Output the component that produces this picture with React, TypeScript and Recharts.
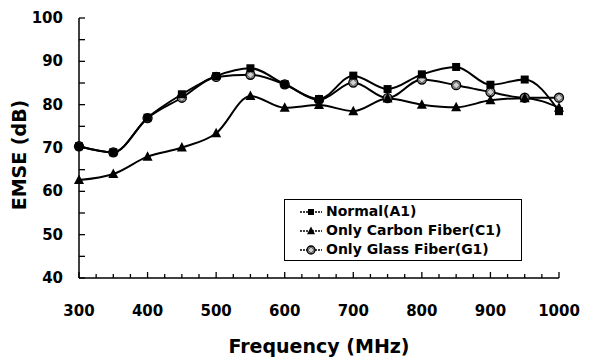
import React from "react";
import { LineChart, Line, XAxis, YAxis } from "recharts";

const frequencies = [300, 350, 400, 450, 500, 550, 600, 650, 700, 750, 800, 850, 900, 950, 1000];
const normalA1 = [70.4, 69.0, 77.0, 82.4, 86.6, 88.4, 84.7, 81.3, 86.7, 83.6, 87.0, 88.7, 84.6, 85.8, 78.5];
const carbonC1 = [62.6, 64.0, 68.0, 70.1, 73.4, 82.0, 79.3, 79.9, 78.5, 81.4, 80.0, 79.4, 81.0, 81.5, 79.3];
const glassG1 = [70.4, 69.0, 76.9, 81.6, 86.4, 86.9, 84.7, 81.1, 85.1, 81.5, 85.8, 84.5, 82.9, 81.6, 81.6];

const xTicks = [300, 325, 350, 375, 400, 425, 450, 475, 500, 525, 550, 575, 600, 625, 650, 675, 700, 725, 750, 775, 800, 825, 850, 875, 900, 925, 950, 975, 1000];
const yTicks = [40, 45, 50, 55, 60, 65, 70, 75, 80, 85, 90, 95, 100];

const seriesNames = ["Normal(A1)", "Only Carbon Fiber(C1)", "Only Glass Fiber(G1)"];

const data = frequencies.map((f, i) => ({
  freq: f,
  normal: normalA1[i],
  carbon: carbonC1[i],
  glass: glassG1[i],
}));

const FONT = "'DejaVu Sans', sans-serif";

// markers
function SquareMark({ cx, cy, s = 8 }: any) {
  return <rect x={cx - s / 2} y={cy - s / 2} width={s} height={s} fill="#000" />;
}
function TriangleMark({ cx, cy, s = 10 }: any) {
  return (
    <polygon
      points={`${cx},${cy - s * 0.55} ${cx + s / 2},${cy + s * 0.4} ${cx - s / 2},${cy + s * 0.4}`}
      fill="#000"
    />
  );
}
function GlassMark({ cx, cy, r = 4.5 }: any) {
  return (
    <g>
      <circle cx={cx} cy={cy} r={r} fill="#8a8a8a" stroke="#000" strokeWidth={1.3} />
      <polygon
        points={`${cx},${cy - r + 1} ${cx + r - 1},${cy} ${cx},${cy + r - 1} ${cx - r + 1},${cy}`}
        fill="#d0d0d0"
        stroke="#333"
        strokeWidth={0.6}
      />
    </g>
  );
}

function XTick({ x, y, payload }: any) {
  const major = payload.value % 100 === 0;
  return (
    <g>
      <line x1={x} x2={x} y1={y} y2={y - (major ? 6 : 4)} stroke="#000" strokeWidth={1.3} />
      {major && (
        <text x={x} y={y + 38} textAnchor="middle" fontFamily={FONT} fontWeight="bold" fontSize={15} fill="#000">
          {payload.value}
        </text>
      )}
    </g>
  );
}

function YTick({ x, y, payload }: any) {
  const major = payload.value % 10 === 0;
  return (
    <g>
      <line x1={x} x2={x + 6} y1={y} y2={y} stroke="#000" strokeWidth={1.3} />
      {major && (
        <text x={x - 16} y={y + 5} textAnchor="end" fontFamily={FONT} fontWeight="bold" fontSize={15} fill="#000">
          {payload.value}
        </text>
      )}
    </g>
  );
}

function YTitle({ viewBox }: any) {
  const cx = 19;
  const cy = viewBox.y + viewBox.height / 2 + 7;
  return (
    <text
      x={cx}
      y={cy}
      dy="0.36em"
      transform={`rotate(-90 ${cx} ${cy})`}
      textAnchor="middle"
      fontFamily={FONT}
      fontWeight="bold"
      fontSize={19}
      fill="#000"
    >
      EMSE (dB)
    </text>
  );
}

// legend drawn as an overlay box inside the plot
function LegendBox() {
  const marks = [SquareMark, TriangleMark, GlassMark];
  return (
    <div
      style={{
        position: "absolute",
        left: 284,
        top: 199,
        width: 238,
        height: 62,
        boxSizing: "border-box",
        border: "1px solid #000",
        background: "#fff",
        padding: "2px 0 0 15px",
        fontFamily: FONT,
        fontWeight: "bold",
        fontSize: 14,
        lineHeight: "19px",
      }}
    >
      {seriesNames.map((name, i) => {
        const Mark = marks[i];
        return (
          <div key={name} style={{ display: "flex", alignItems: "center" }}>
            <svg width={22} height={14} style={{ marginRight: 4 }}>
              <line x1={0} x2={22} y1={7} y2={7} stroke="#000" strokeWidth={1.5} strokeDasharray="2 1" />
              <Mark cx={11} cy={7} s={i === 0 ? 6 : 8} r={4} />
            </svg>
            <span>{name}</span>
          </div>
        );
      })}
    </div>
  );
}

export default function App() {
  return (
    <div style={{ position: "absolute", left: 0, top: 0, width: 595, height: 361, background: "#fff" }}>
      <LineChart width={595} height={361} data={data} margin={{ top: 18, right: 36, bottom: 0, left: 0 }}>
        <XAxis
          dataKey="freq"
          type="number"
          domain={[300, 1000]}
          ticks={xTicks}
          interval={0}
          tickSize={0}
          tickMargin={0}
          tick={<XTick />}
          axisLine={{ stroke: "#000", strokeWidth: 1.5 }}
          height={83}
          label={{
            value: "Frequency (MHz)",
            position: "insideBottom",
            offset: 8,
            style: { fontFamily: FONT, fontWeight: "bold", fontSize: 19, fill: "#000" },
          }}
        />
        <YAxis
          type="number"
          domain={[40, 100]}
          ticks={yTicks}
          interval={0}
          tickSize={0}
          tickMargin={0}
          tick={<YTick />}
          axisLine={{ stroke: "#000", strokeWidth: 1.5 }}
          width={79}
          label={{ content: <YTitle /> }}
        />
        <Line
          type="monotone"
          dataKey="glass"
          name={seriesNames[2]}
          stroke="#000"
          strokeWidth={2}
          isAnimationActive={false}
          dot={(p: any) => <GlassMark key={`g${p.index}`} cx={p.cx} cy={p.cy} />}
          activeDot={false}
        />
        <Line
          type="monotone"
          dataKey="carbon"
          name={seriesNames[1]}
          stroke="#000"
          strokeWidth={2}
          isAnimationActive={false}
          dot={(p: any) => <TriangleMark key={`c${p.index}`} cx={p.cx} cy={p.cy} />}
          activeDot={false}
        />
        <Line
          type="monotone"
          dataKey="normal"
          name={seriesNames[0]}
          stroke="#000"
          strokeWidth={2}
          isAnimationActive={false}
          dot={(p: any) => <SquareMark key={`n${p.index}`} cx={p.cx} cy={p.cy} />}
          activeDot={false}
        />
      </LineChart>
      <LegendBox />
    </div>
  );
}
